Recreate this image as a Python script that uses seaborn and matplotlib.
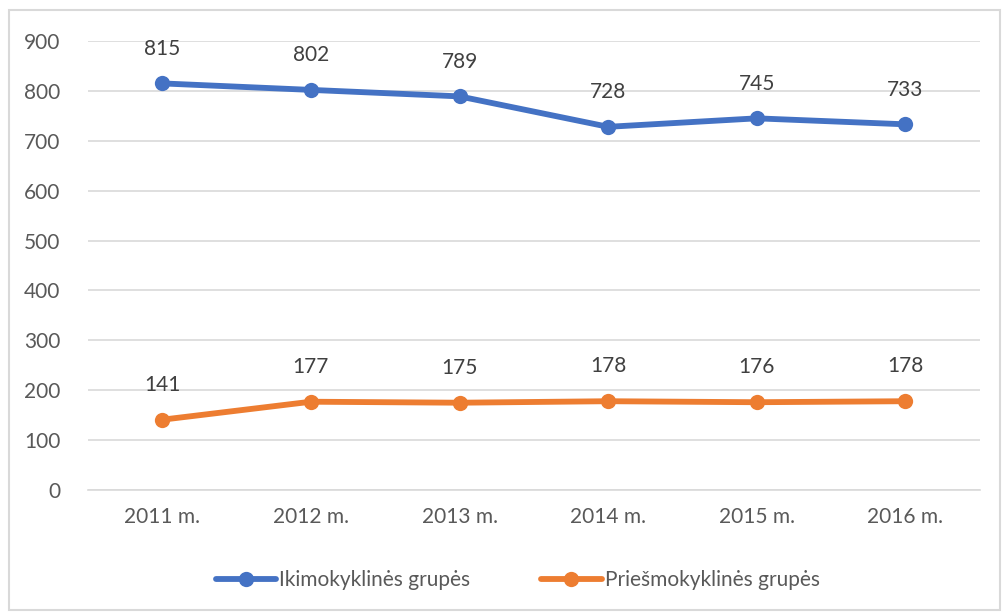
import matplotlib
matplotlib.use("Agg")
import matplotlib.pyplot as plt
from matplotlib.patches import Rectangle
import seaborn as sns
import pandas as pd

# chart data
years = ['2011 m.', '2012 m.', '2013 m.', '2014 m.', '2015 m.', '2016 m.']
ikimokyklines = [815, 802, 789, 728, 745, 733]
priesmokyklines = [141, 177, 175, 178, 176, 178]
series_names = ['Ikimokyklinės grupės', 'Priešmokyklinės grupės']
colors = ['#4472C4', '#ED7D31']

sns.set_theme(style='white')
plt.rcParams['font.family'] = ['Lato', 'DejaVu Sans']

df = pd.DataFrame({
    'pos': list(range(len(years))) * 2,
    'value': ikimokyklines + priesmokyklines,
    'series': [series_names[0]] * len(years) + [series_names[1]] * len(years),
})

fig = plt.figure(figsize=(10.04, 6.12), dpi=100)
ax = fig.add_axes([0.0877, 0.1993, 0.888, 0.7337])

sns.lineplot(data=df, x='pos', y='value', hue='series', palette=colors,
             marker='o', markersize=11, markeredgewidth=0, linewidth=4.2,
             ax=ax, legend=True)

# data labels
for vals in (ikimokyklines, priesmokyklines):
    for i, v in enumerate(vals):
        ax.annotate(str(v), (i, v), xytext=(0, 25), textcoords='offset points',
                    ha='center', va='center', fontsize=15, color='#404040')

ax.set_xlim(-0.5, len(years) - 0.5)
ax.set_ylim(0, 900)
ax.set_yticks(range(0, 901, 100))
ax.set_xticks(range(len(years)))
ax.set_xticklabels(years)
ax.set_xlabel('')
ax.set_ylabel('')
ax.yaxis.grid(True, color='#D9D9D9', linewidth=1.2)
ax.set_axisbelow(True)
for s in ax.spines.values():
    s.set_visible(False)
ax.spines['bottom'].set_visible(True)
ax.spines['bottom'].set_color('#D9D9D9')
ax.spines['bottom'].set_linewidth(1.2)
ax.tick_params(axis='both', length=0, labelsize=15, labelcolor='#595959')
ax.tick_params(axis='y', pad=20)
ax.tick_params(axis='x', pad=12)

handles, labels = ax.get_legend_handles_labels()
ax.legend(handles, labels, loc='center', bbox_to_anchor=(0.482, -0.2),
          ncol=2, frameon=False, fontsize=15, labelcolor='#595959',
          handlelength=2.9, handletextpad=0.15, columnspacing=3.4)

# chart border
fig.patches.append(Rectangle((9 / 1004, 2 / 612), 991 / 1004, 600 / 612,
                             transform=fig.transFigure, fill=False,
                             edgecolor='#D9D9D9', linewidth=1.5))

fig.savefig('out.png', dpi=100)
